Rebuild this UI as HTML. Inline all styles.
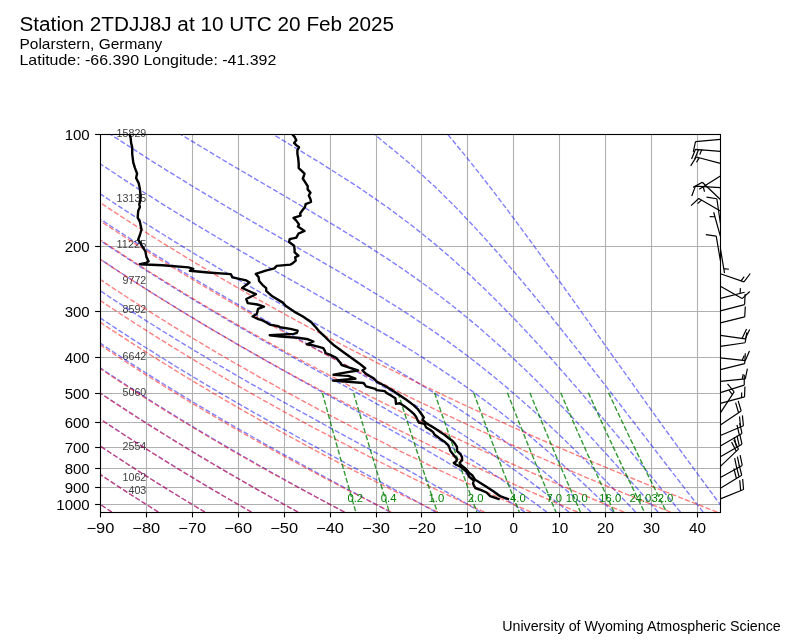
<!DOCTYPE html><html><head><meta charset="utf-8"><style>html,body{margin:0;padding:0;background:#fff;width:800px;height:640px;overflow:hidden}svg{display:block;will-change:transform}text{font-family:"Liberation Sans",sans-serif}</style></head><body>
<svg width="800" height="640" viewBox="0 0 800 640">
<defs><clipPath id="ax"><rect x="100.00" y="134.20" width="620.00" height="377.87"/></clipPath></defs>
<text x="19.5" y="31.3" font-size="19.4" textLength="374.5" lengthAdjust="spacingAndGlyphs">Station 2TDJJ8J at 10 UTC 20 Feb 2025</text>
<text x="19.5" y="49.2" font-size="14.6" textLength="142.8" lengthAdjust="spacingAndGlyphs">Polarstern, Germany</text>
<text x="19.5" y="65.1" font-size="14.6" textLength="256.8" lengthAdjust="spacingAndGlyphs">Latitude: -66.390 Longitude: -41.392</text>
<text x="502.2" y="631.4" font-size="13.9" textLength="278.5" lengthAdjust="spacingAndGlyphs">University of Wyoming Atmospheric Science</text>
<g stroke="#b0b0b0" stroke-width="1.11">
<line x1="146.5" y1="134.20" x2="146.5" y2="512.07"/>
<line x1="192.5" y1="134.20" x2="192.5" y2="512.07"/>
<line x1="238.5" y1="134.20" x2="238.5" y2="512.07"/>
<line x1="284.5" y1="134.20" x2="284.5" y2="512.07"/>
<line x1="330.5" y1="134.20" x2="330.5" y2="512.07"/>
<line x1="376.5" y1="134.20" x2="376.5" y2="512.07"/>
<line x1="421.5" y1="134.20" x2="421.5" y2="512.07"/>
<line x1="467.5" y1="134.20" x2="467.5" y2="512.07"/>
<line x1="513.5" y1="134.20" x2="513.5" y2="512.07"/>
<line x1="559.5" y1="134.20" x2="559.5" y2="512.07"/>
<line x1="605.5" y1="134.20" x2="605.5" y2="512.07"/>
<line x1="651.5" y1="134.20" x2="651.5" y2="512.07"/>
<line x1="697.5" y1="134.20" x2="697.5" y2="512.07"/>
<line x1="100.00" y1="134.5" x2="720.00" y2="134.5"/>
<line x1="100.00" y1="246.5" x2="720.00" y2="246.5"/>
<line x1="100.00" y1="311.5" x2="720.00" y2="311.5"/>
<line x1="100.00" y1="357.5" x2="720.00" y2="357.5"/>
<line x1="100.00" y1="393.5" x2="720.00" y2="393.5"/>
<line x1="100.00" y1="422.5" x2="720.00" y2="422.5"/>
<line x1="100.00" y1="447.5" x2="720.00" y2="447.5"/>
<line x1="100.00" y1="468.5" x2="720.00" y2="468.5"/>
<line x1="100.00" y1="487.5" x2="720.00" y2="487.5"/>
<line x1="100.00" y1="504.5" x2="720.00" y2="504.5"/>
</g>
<g font-size="11" fill="#404040" text-anchor="end">
<text x="146.3" y="136.9" textLength="29.75" lengthAdjust="spacingAndGlyphs">15829</text>
<text x="146.3" y="202.1" textLength="29.75" lengthAdjust="spacingAndGlyphs">13135</text>
<text x="146.3" y="248.3" textLength="29.75" lengthAdjust="spacingAndGlyphs">11225</text>
<text x="146.3" y="284.1" textLength="23.80" lengthAdjust="spacingAndGlyphs">9772</text>
<text x="146.3" y="313.4" textLength="23.80" lengthAdjust="spacingAndGlyphs">8592</text>
<text x="146.3" y="359.7" textLength="23.80" lengthAdjust="spacingAndGlyphs">6642</text>
<text x="146.3" y="395.5" textLength="23.80" lengthAdjust="spacingAndGlyphs">5060</text>
<text x="146.3" y="449.6" textLength="23.80" lengthAdjust="spacingAndGlyphs">2554</text>
<text x="146.3" y="480.8" textLength="23.80" lengthAdjust="spacingAndGlyphs">1062</text>
<text x="146.3" y="494.4" textLength="17.85" lengthAdjust="spacingAndGlyphs">403</text>
</g>
<g clip-path="url(#ax)" fill="none" stroke-width="1.39">
<g stroke="#0000ff" stroke-opacity="0.5" stroke-dasharray="5.14 2.22">
<path d="M111.81,512.07 L107.28,509.07 L102.69,506.02 L98.03,502.91 L93.31,499.74 L88.53,496.50 L83.67,493.20 L78.74,489.82 L73.73,486.38 L68.65,482.86 L63.48,479.26 L58.24,475.58 L52.90,471.81 L47.47,467.96 L41.95,464.00 L36.33,459.95 L30.60,455.79 L24.77,451.53 L18.82,447.14 L12.76,442.63 L6.57,438.00 L0.25,433.22 L-6.21,428.30 L-12.81,423.23 L-19.57,417.98 L-26.49,412.56 L-33.58,406.96 L-40.85,401.15 L-48.32,395.12 L-55.99,388.85 L-63.89,382.33 L-72.02,375.54 L-80.40,368.45 L-89.06,361.03 L-98.02,353.24 L-107.30,345.07 L-116.94,336.45 L-126.96,327.35 L-137.41,317.70 L-148.33,307.43 L-159.77,296.47 L-171.82,284.69 L-184.53,271.99 L-198.01,258.20 L-212.39,243.11 L-227.82,226.46 L-244.50,207.87 L-262.71,186.86 L-282.84,162.68 L-305.47,134.20"/>
<path d="M158.37,512.07 L153.60,509.07 L148.76,506.02 L143.85,502.91 L138.87,499.74 L133.83,496.50 L128.70,493.20 L123.51,489.82 L118.23,486.38 L112.87,482.86 L107.42,479.26 L101.89,475.58 L96.26,471.81 L90.53,467.96 L84.71,464.00 L78.78,459.95 L72.74,455.79 L66.59,451.53 L60.32,447.14 L53.92,442.63 L47.40,438.00 L40.73,433.22 L33.92,428.30 L26.96,423.23 L19.83,417.98 L12.53,412.56 L5.06,406.96 L-2.61,401.15 L-10.49,395.12 L-18.58,388.85 L-26.90,382.33 L-35.48,375.54 L-44.32,368.45 L-53.46,361.03 L-62.90,353.24 L-72.69,345.07 L-82.85,336.45 L-93.42,327.35 L-104.44,317.70 L-115.96,307.43 L-128.03,296.47 L-140.73,284.69 L-154.13,271.99 L-168.35,258.20 L-183.52,243.11 L-199.78,226.46 L-217.38,207.87 L-236.59,186.86 L-257.82,162.68 L-281.68,134.20"/>
<path d="M204.94,512.07 L199.92,509.07 L194.83,506.02 L189.67,502.91 L184.44,499.74 L179.13,496.50 L173.75,493.20 L168.28,489.82 L162.73,486.38 L157.10,482.86 L151.37,479.26 L145.55,475.58 L139.63,471.81 L133.61,467.96 L127.49,464.00 L121.25,459.95 L114.90,455.79 L108.43,451.53 L101.84,447.14 L95.11,442.63 L88.24,438.00 L81.23,433.22 L74.07,428.30 L66.74,423.23 L59.25,417.98 L51.58,412.56 L43.71,406.96 L35.64,401.15 L27.36,395.12 L18.85,388.85 L10.09,382.33 L1.08,375.54 L-8.23,368.45 L-17.83,361.03 L-27.77,353.24 L-38.07,345.07 L-48.75,336.45 L-59.87,327.35 L-71.46,317.70 L-83.57,307.43 L-96.27,296.47 L-109.62,284.69 L-123.73,271.99 L-138.68,258.20 L-154.63,243.11 L-171.74,226.46 L-190.25,207.87 L-210.45,186.86 L-232.78,162.68 L-257.88,134.20"/>
<path d="M251.47,512.07 L246.22,509.07 L240.89,506.02 L235.49,502.91 L230.02,499.74 L224.46,496.50 L218.82,493.20 L213.09,489.82 L207.27,486.38 L201.36,482.86 L195.36,479.26 L189.26,475.58 L183.05,471.81 L176.74,467.96 L170.32,464.00 L163.78,459.95 L157.12,455.79 L150.33,451.53 L143.41,447.14 L136.35,442.63 L129.15,438.00 L121.79,433.22 L114.28,428.30 L106.59,423.23 L98.73,417.98 L90.67,412.56 L82.42,406.96 L73.96,401.15 L65.27,395.12 L56.34,388.85 L47.15,382.33 L37.68,375.54 L27.92,368.45 L17.84,361.03 L7.42,353.24 L-3.39,345.07 L-14.60,336.45 L-26.27,327.35 L-38.43,317.70 L-51.14,307.43 L-64.46,296.47 L-78.48,284.69 L-93.27,271.99 L-108.97,258.20 L-125.70,243.11 L-143.66,226.46 L-163.07,207.87 L-184.27,186.86 L-207.71,162.68 L-234.04,134.20"/>
<path d="M297.94,512.07 L292.48,509.07 L286.95,506.02 L281.33,502.91 L275.62,499.74 L269.83,496.50 L263.95,493.20 L257.98,489.82 L251.91,486.38 L245.74,482.86 L239.47,479.26 L233.10,475.58 L226.61,471.81 L220.02,467.96 L213.30,464.00 L206.46,459.95 L199.49,455.79 L192.39,451.53 L185.15,447.14 L177.77,442.63 L170.23,438.00 L162.53,433.22 L154.66,428.30 L146.61,423.23 L138.38,417.98 L129.95,412.56 L121.31,406.96 L112.45,401.15 L103.35,395.12 L94.00,388.85 L84.37,382.33 L74.46,375.54 L64.24,368.45 L53.69,361.03 L42.77,353.24 L31.45,345.07 L19.71,336.45 L7.49,327.35 L-5.24,317.70 L-18.55,307.43 L-32.51,296.47 L-47.18,284.69 L-62.68,271.99 L-79.11,258.20 L-96.64,243.11 L-115.44,226.46 L-135.77,207.87 L-157.98,186.86 L-182.52,162.68 L-210.10,134.20"/>
<path d="M344.25,512.07 L338.65,509.07 L332.96,506.02 L327.18,502.91 L321.31,499.74 L315.33,496.50 L309.26,493.20 L303.08,489.82 L296.80,486.38 L290.40,482.86 L283.90,479.26 L277.28,475.58 L270.54,471.81 L263.68,467.96 L256.69,464.00 L249.56,459.95 L242.30,455.79 L234.90,451.53 L227.35,447.14 L219.64,442.63 L211.78,438.00 L203.74,433.22 L195.52,428.30 L187.12,423.23 L178.51,417.98 L169.70,412.56 L160.67,406.96 L151.41,401.15 L141.90,395.12 L132.12,388.85 L122.06,382.33 L111.70,375.54 L101.01,368.45 L89.97,361.03 L78.56,353.24 L66.73,345.07 L54.45,336.45 L41.68,327.35 L28.36,317.70 L14.44,307.43 L-0.15,296.47 L-15.50,284.69 L-31.70,271.99 L-48.89,258.20 L-67.21,243.11 L-86.87,226.46 L-108.13,207.87 L-131.35,186.86 L-157.01,162.68 L-185.85,134.20"/>
<path d="M390.23,512.07 L384.63,509.07 L378.91,506.02 L373.09,502.91 L367.15,499.74 L361.10,496.50 L354.93,493.20 L348.64,489.82 L342.23,486.38 L335.69,482.86 L329.02,479.26 L322.22,475.58 L315.29,471.81 L308.22,467.96 L301.00,464.00 L293.64,459.95 L286.12,455.79 L278.45,451.53 L270.62,447.14 L262.61,442.63 L254.43,438.00 L246.07,433.22 L237.51,428.30 L228.76,423.23 L219.79,417.98 L210.61,412.56 L201.18,406.96 L191.52,401.15 L181.59,395.12 L171.38,388.85 L160.87,382.33 L150.05,375.54 L138.89,368.45 L127.36,361.03 L115.43,353.24 L103.07,345.07 L90.24,336.45 L76.89,327.35 L62.98,317.70 L48.43,307.43 L33.18,296.47 L17.15,284.69 L0.21,271.99 L-17.74,258.20 L-36.89,243.11 L-57.44,226.46 L-79.66,207.87 L-103.92,186.86 L-130.73,162.68 L-160.87,134.20"/>
<path d="M435.69,512.07 L430.28,509.07 L424.75,506.02 L419.08,502.91 L413.28,499.74 L407.34,496.50 L401.26,493.20 L395.04,489.82 L388.67,486.38 L382.15,482.86 L375.48,479.26 L368.65,475.58 L361.66,471.81 L354.51,467.96 L347.18,464.00 L339.69,459.95 L332.01,455.79 L324.16,451.53 L316.12,447.14 L307.88,442.63 L299.45,438.00 L290.81,433.22 L281.95,428.30 L272.88,423.23 L263.57,417.98 L254.02,412.56 L244.22,406.96 L234.15,401.15 L223.80,395.12 L213.15,388.85 L202.19,382.33 L190.88,375.54 L179.22,368.45 L167.17,361.03 L154.70,353.24 L141.78,345.07 L128.37,336.45 L114.41,327.35 L99.86,317.70 L84.65,307.43 L68.71,296.47 L51.93,284.69 L34.22,271.99 L15.44,258.20 L-4.59,243.11 L-26.08,226.46 L-49.31,207.87 L-74.68,186.86 L-102.73,162.68 L-134.25,134.20"/>
<path d="M480.50,512.07 L475.53,509.07 L470.43,506.02 L465.18,502.91 L459.79,499.74 L454.24,496.50 L448.54,493.20 L442.67,489.82 L436.63,486.38 L430.42,482.86 L424.03,479.26 L417.45,475.58 L410.68,471.81 L403.71,467.96 L396.54,464.00 L389.16,459.95 L381.56,455.79 L373.74,451.53 L365.70,447.14 L357.42,442.63 L348.89,438.00 L340.13,433.22 L331.10,428.30 L321.82,423.23 L312.26,417.98 L302.42,412.56 L292.30,406.96 L281.87,401.15 L271.12,395.12 L260.04,388.85 L248.61,382.33 L236.82,375.54 L224.63,368.45 L212.03,361.03 L198.97,353.24 L185.44,345.07 L171.37,336.45 L156.74,327.35 L141.48,317.70 L125.52,307.43 L108.79,296.47 L91.19,284.69 L72.60,271.99 L52.89,258.20 L31.87,243.11 L9.32,226.46 L-15.07,207.87 L-41.69,186.86 L-71.13,162.68 L-104.21,134.20"/>
<path d="M524.79,512.07 L520.45,509.07 L515.98,506.02 L511.38,502.91 L506.64,499.74 L501.76,496.50 L496.73,493.20 L491.53,489.82 L486.17,486.38 L480.63,482.86 L474.91,479.26 L468.99,475.58 L462.86,471.81 L456.52,467.96 L449.95,464.00 L443.14,459.95 L436.09,455.79 L428.77,451.53 L421.18,447.14 L413.31,442.63 L405.15,438.00 L396.67,433.22 L387.88,428.30 L378.76,423.23 L369.29,417.98 L359.48,412.56 L349.29,406.96 L338.73,401.15 L327.78,395.12 L316.42,388.85 L304.64,382.33 L292.42,375.54 L279.74,368.45 L266.59,361.03 L252.92,353.24 L238.71,345.07 L223.92,336.45 L208.50,327.35 L192.40,317.70 L175.55,307.43 L157.88,296.47 L139.27,284.69 L119.62,271.99 L98.78,258.20 L76.55,243.11 L52.69,226.46 L26.90,207.87 L-1.27,186.86 L-32.41,162.68 L-67.40,134.20"/>
<path d="M546.85,512.07 L542.85,509.07 L538.73,506.02 L534.50,502.91 L530.14,499.74 L525.65,496.50 L521.02,493.20 L516.25,489.82 L511.31,486.38 L506.22,482.86 L500.95,479.26 L495.49,475.58 L489.84,471.81 L483.98,467.96 L477.90,464.00 L471.59,459.95 L465.02,455.79 L458.20,451.53 L451.10,447.14 L443.71,442.63 L436.01,438.00 L427.97,433.22 L419.60,428.30 L410.86,423.23 L401.75,417.98 L392.23,412.56 L382.30,406.96 L371.94,401.15 L361.13,395.12 L349.85,388.85 L338.08,382.33 L325.81,375.54 L313.02,368.45 L299.68,361.03 L285.76,353.24 L271.25,345.07 L256.10,336.45 L240.27,327.35 L223.71,317.70 L206.35,307.43 L188.12,296.47 L168.92,284.69 L148.62,271.99 L127.08,258.20 L104.11,243.11 L79.45,226.46 L52.79,207.87 L23.67,186.86 L-8.51,162.68 L-44.68,134.20"/>
<path d="M568.92,512.07 L565.25,509.07 L561.49,506.02 L557.62,502.91 L553.64,499.74 L549.55,496.50 L545.33,493.20 L540.98,489.82 L536.50,486.38 L531.87,482.86 L527.09,479.26 L522.14,475.58 L517.01,471.81 L511.70,467.96 L506.19,464.00 L500.46,459.95 L494.51,455.79 L488.31,451.53 L481.85,447.14 L475.11,442.63 L468.07,438.00 L460.71,433.22 L453.00,428.30 L444.92,423.23 L436.45,417.98 L427.56,412.56 L418.22,406.96 L408.40,401.15 L398.07,395.12 L387.21,388.85 L375.79,382.33 L363.78,375.54 L351.15,368.45 L337.88,361.03 L323.93,353.24 L309.27,345.07 L293.88,336.45 L277.72,327.35 L260.73,317.70 L242.86,307.43 L224.03,296.47 L204.16,284.69 L183.13,271.99 L160.79,258.20 L136.94,243.11 L111.34,226.46 L83.64,207.87 L53.40,186.86 L19.96,162.68 L-17.61,134.20"/>
<path d="M591.04,512.07 L587.69,509.07 L584.25,506.02 L580.73,502.91 L577.11,499.74 L573.39,496.50 L569.57,493.20 L565.63,489.82 L561.58,486.38 L557.41,482.86 L553.10,479.26 L548.65,475.58 L544.05,471.81 L539.29,467.96 L534.37,464.00 L529.25,459.95 L523.94,455.79 L518.42,451.53 L512.67,447.14 L506.68,442.63 L500.42,438.00 L493.87,433.22 L487.01,428.30 L479.81,423.23 L472.24,417.98 L464.27,412.56 L455.87,406.96 L446.99,401.15 L437.60,395.12 L427.65,388.85 L417.10,382.33 L405.89,375.54 L393.97,368.45 L381.31,361.03 L367.84,353.24 L353.52,345.07 L338.31,336.45 L322.14,327.35 L304.98,317.70 L286.78,307.43 L267.46,296.47 L246.95,284.69 L225.14,271.99 L201.89,258.20 L177.02,243.11 L150.29,226.46 L121.35,207.87 L89.73,186.86 L54.77,162.68 L15.47,134.20"/>
<path d="M613.25,512.07 L610.18,509.07 L607.04,506.02 L603.82,502.91 L600.52,499.74 L597.14,496.50 L593.67,493.20 L590.11,489.82 L586.45,486.38 L582.68,482.86 L578.81,479.26 L574.82,475.58 L570.70,471.81 L566.45,467.96 L562.06,464.00 L557.52,459.95 L552.82,455.79 L547.94,451.53 L542.88,447.14 L537.61,442.63 L532.12,438.00 L526.39,433.22 L520.41,428.30 L514.15,423.23 L507.57,417.98 L500.66,412.56 L493.38,406.96 L485.68,401.15 L477.54,395.12 L468.89,388.85 L459.68,382.33 L449.86,375.54 L439.34,368.45 L428.06,361.03 L415.92,353.24 L402.84,345.07 L388.73,336.45 L373.48,327.35 L357.00,317.70 L339.20,307.43 L319.98,296.47 L299.26,284.69 L276.94,271.99 L252.90,258.20 L226.98,243.11 L198.97,226.46 L168.55,207.87 L135.24,186.86 L98.38,162.68 L56.95,134.20"/>
<path d="M635.57,512.07 L632.74,509.07 L629.85,506.02 L626.90,502.91 L623.87,499.74 L620.78,496.50 L617.62,493.20 L614.37,489.82 L611.05,486.38 L607.63,482.86 L604.13,479.26 L600.53,475.58 L596.82,471.81 L593.01,467.96 L589.08,464.00 L585.03,459.95 L580.84,455.79 L576.52,451.53 L572.04,447.14 L567.40,442.63 L562.59,438.00 L557.59,433.22 L552.38,428.30 L546.95,423.23 L541.28,417.98 L535.34,412.56 L529.11,406.96 L522.56,401.15 L515.65,395.12 L508.35,388.85 L500.60,382.33 L492.35,375.54 L483.54,368.45 L474.09,361.03 L463.92,353.24 L452.91,345.07 L440.95,336.45 L427.88,327.35 L413.55,317.70 L397.76,307.43 L380.30,296.47 L360.97,284.69 L339.53,271.99 L315.80,258.20 L289.57,243.11 L260.65,226.46 L228.78,207.87 L193.56,186.86 L154.38,162.68 L110.23,134.20"/>
<path d="M657.99,512.07 L655.37,509.07 L652.69,506.02 L649.95,502.91 L647.16,499.74 L644.31,496.50 L641.39,493.20 L638.41,489.82 L635.36,486.38 L632.23,482.86 L629.03,479.26 L625.74,475.58 L622.37,471.81 L618.91,467.96 L615.36,464.00 L611.70,459.95 L607.93,455.79 L604.05,451.53 L600.05,447.14 L595.91,442.63 L591.64,438.00 L587.21,433.22 L582.62,428.30 L577.86,423.23 L572.91,417.98 L567.75,412.56 L562.36,406.96 L556.73,401.15 L550.83,395.12 L544.63,388.85 L538.10,382.33 L531.19,375.54 L523.87,368.45 L516.08,361.03 L507.75,353.24 L498.81,345.07 L489.15,336.45 L478.67,327.35 L467.20,317.70 L454.57,307.43 L440.53,296.47 L424.80,284.69 L406.99,271.99 L386.64,258.20 L363.23,243.11 L336.16,226.46 L304.88,207.87 L268.88,186.86 L227.63,162.68 L180.34,134.20"/>
<path d="M680.52,512.07 L678.06,509.07 L675.55,506.02 L672.99,502.91 L670.38,499.74 L667.72,496.50 L665.00,493.20 L662.23,489.82 L659.39,486.38 L656.50,482.86 L653.53,479.26 L650.50,475.58 L647.39,471.81 L644.20,467.96 L640.93,464.00 L637.58,459.95 L634.14,455.79 L630.60,451.53 L626.95,447.14 L623.20,442.63 L619.33,438.00 L615.34,433.22 L611.22,428.30 L606.95,423.23 L602.53,417.98 L597.95,412.56 L593.19,406.96 L588.23,401.15 L583.06,395.12 L577.66,388.85 L572.01,382.33 L566.08,375.54 L559.83,368.45 L553.24,361.03 L546.26,353.24 L538.83,345.07 L530.90,336.45 L522.39,327.35 L513.21,317.70 L503.22,307.43 L492.29,296.47 L480.20,284.69 L466.68,271.99 L451.37,258.20 L433.74,243.11 L413.05,226.46 L388.25,207.87 L357.85,186.86 L320.00,162.68 L272.77,134.20"/>
<path d="M703.14,512.07 L700.81,509.07 L698.43,506.02 L696.01,502.91 L693.55,499.74 L691.04,496.50 L688.47,493.20 L685.86,489.82 L683.19,486.38 L680.47,482.86 L677.68,479.26 L674.84,475.58 L671.93,471.81 L668.95,467.96 L665.90,464.00 L662.78,459.95 L659.57,455.79 L656.28,451.53 L652.91,447.14 L649.44,442.63 L645.87,438.00 L642.19,433.22 L638.40,428.30 L634.49,423.23 L630.45,417.98 L626.28,412.56 L621.95,406.96 L617.47,401.15 L612.81,395.12 L607.96,388.85 L602.91,382.33 L597.64,375.54 L592.11,368.45 L586.32,361.03 L580.22,353.24 L573.79,345.07 L566.97,336.45 L559.73,327.35 L551.99,317.70 L543.69,307.43 L534.72,296.47 L524.97,284.69 L514.28,271.99 L502.43,258.20 L489.13,243.11 L473.96,226.46 L456.30,207.87 L435.14,186.86 L408.82,162.68 L374.31,134.20"/>
<path d="M725.84,512.07 L723.61,509.07 L721.34,506.02 L719.02,502.91 L716.66,499.74 L714.26,496.50 L711.82,493.20 L709.32,489.82 L706.78,486.38 L704.19,482.86 L701.54,479.26 L698.83,475.58 L696.07,471.81 L693.24,467.96 L690.35,464.00 L687.39,459.95 L684.36,455.79 L681.26,451.53 L678.07,447.14 L674.80,442.63 L671.45,438.00 L667.99,433.22 L664.44,428.30 L660.78,423.23 L657.01,417.98 L653.12,412.56 L649.09,406.96 L644.93,401.15 L640.62,395.12 L636.14,388.85 L631.49,382.33 L626.65,375.54 L621.60,368.45 L616.32,361.03 L610.79,353.24 L604.98,345.07 L598.86,336.45 L592.39,327.35 L585.53,317.70 L578.22,307.43 L570.40,296.47 L561.98,284.69 L552.86,271.99 L542.91,258.20 L531.94,243.11 L519.71,226.46 L505.87,207.87 L489.90,186.86 L470.97,162.68 L447.64,134.20"/>
</g><g stroke="#ff0000" stroke-opacity="0.5" stroke-dasharray="5.14 2.22">
<path d="M111.81,512.07 L107.28,509.07 L102.69,506.02 L98.03,502.91 L93.31,499.74 L88.53,496.50 L83.67,493.20 L78.74,489.82 L73.73,486.38 L68.65,482.86 L63.48,479.26 L58.24,475.58 L52.90,471.81 L47.47,467.96 L41.95,464.00 L36.33,459.95 L30.60,455.79 L24.77,451.53 L18.82,447.14 L12.76,442.63 L6.57,438.00 L0.25,433.22 L-6.21,428.30 L-12.82,423.23 L-19.57,417.98 L-26.49,412.56 L-33.58,406.96 L-40.85,401.15 L-48.32,395.12 L-55.99,388.85 L-63.89,382.33 L-72.02,375.54 L-80.40,368.45 L-89.06,361.03 L-98.02,353.24 L-107.30,345.07 L-116.94,336.45 L-126.96,327.35 L-137.41,317.70 L-148.33,307.43 L-159.78,296.47 L-171.82,284.69 L-184.53,271.99 L-198.01,258.20 L-212.39,243.11 L-227.82,226.46 L-244.50,207.87 L-262.71,186.86 L-282.84,162.68 L-305.47,134.20"/>
<path d="M158.38,512.07 L153.60,509.07 L148.76,506.02 L143.85,502.91 L138.87,499.74 L133.82,496.50 L128.70,493.20 L123.50,489.82 L118.22,486.38 L112.86,482.86 L107.42,479.26 L101.88,475.58 L96.25,471.81 L90.53,467.96 L84.71,464.00 L78.78,459.95 L72.74,455.79 L66.59,451.53 L60.32,447.14 L53.92,442.63 L47.39,438.00 L40.73,433.22 L33.91,428.30 L26.95,423.23 L19.82,417.98 L12.53,412.56 L5.05,406.96 L-2.62,401.15 L-10.49,395.12 L-18.58,388.85 L-26.91,382.33 L-35.48,375.54 L-44.33,368.45 L-53.46,361.03 L-62.91,353.24 L-72.70,345.07 L-82.86,336.45 L-93.43,327.35 L-104.44,317.70 L-115.96,307.43 L-128.03,296.47 L-140.73,284.69 L-154.14,271.99 L-168.36,258.20 L-183.52,243.11 L-199.79,226.46 L-217.38,207.87 L-236.59,186.86 L-257.82,162.68 L-281.68,134.20"/>
<path d="M204.95,512.07 L199.92,509.07 L194.83,506.02 L189.67,502.91 L184.43,499.74 L179.12,496.50 L173.74,493.20 L168.27,489.82 L162.72,486.38 L157.08,482.86 L151.35,479.26 L145.53,475.58 L139.61,471.81 L133.59,467.96 L127.46,464.00 L121.23,459.95 L114.88,455.79 L108.40,451.53 L101.81,447.14 L95.08,442.63 L88.22,438.00 L81.20,433.22 L74.04,428.30 L66.72,423.23 L59.22,417.98 L51.55,412.56 L43.68,406.96 L35.62,401.15 L27.34,395.12 L18.82,388.85 L10.07,382.33 L1.05,375.54 L-8.25,368.45 L-17.86,361.03 L-27.80,353.24 L-38.09,345.07 L-48.78,336.45 L-59.89,327.35 L-71.48,317.70 L-83.59,307.43 L-96.29,296.47 L-109.65,284.69 L-123.75,271.99 L-138.70,258.20 L-154.65,243.11 L-171.76,226.46 L-190.27,207.87 L-210.47,186.86 L-232.80,162.68 L-257.90,134.20"/>
<path d="M251.52,512.07 L246.25,509.07 L240.90,506.02 L235.49,502.91 L230.00,499.74 L224.42,496.50 L218.77,493.20 L213.03,489.82 L207.21,486.38 L201.29,482.86 L195.28,479.26 L189.17,475.58 L182.96,471.81 L176.64,467.96 L170.22,464.00 L163.68,459.95 L157.01,455.79 L150.22,451.53 L143.30,447.14 L136.24,442.63 L129.04,438.00 L121.68,433.22 L114.17,428.30 L106.48,423.23 L98.62,417.98 L90.57,412.56 L82.32,406.96 L73.85,401.15 L65.16,395.12 L56.23,388.85 L47.05,382.33 L37.58,375.54 L27.82,368.45 L17.74,361.03 L7.32,353.24 L-3.48,345.07 L-14.70,336.45 L-26.36,327.35 L-38.52,317.70 L-51.23,307.43 L-64.55,296.47 L-78.56,284.69 L-93.36,271.99 L-109.05,258.20 L-125.78,243.11 L-143.73,226.46 L-163.15,207.87 L-184.35,186.86 L-207.78,162.68 L-234.11,134.20"/>
<path d="M298.09,512.07 L292.57,509.07 L286.98,506.02 L281.31,502.91 L275.56,499.74 L269.72,496.50 L263.80,493.20 L257.80,489.82 L251.70,486.38 L245.51,482.86 L239.21,479.26 L232.82,475.58 L226.32,471.81 L219.70,467.96 L212.97,464.00 L206.12,459.95 L199.15,455.79 L192.04,451.53 L184.80,447.14 L177.41,442.63 L169.86,438.00 L162.16,433.22 L154.29,428.30 L146.25,423.23 L138.02,417.98 L129.59,412.56 L120.95,406.96 L112.09,401.15 L102.99,395.12 L93.64,388.85 L84.02,382.33 L74.12,375.54 L63.90,368.45 L53.35,361.03 L42.43,353.24 L31.12,345.07 L19.39,336.45 L7.18,327.35 L-5.55,317.70 L-18.86,307.43 L-32.81,296.47 L-47.48,284.69 L-62.97,271.99 L-79.40,258.20 L-96.91,243.11 L-115.71,226.46 L-136.03,207.87 L-158.22,186.86 L-182.75,162.68 L-210.32,134.20"/>
<path d="M344.66,512.07 L338.89,509.07 L333.05,506.02 L327.12,502.91 L321.12,499.74 L315.02,496.50 L308.84,493.20 L302.56,489.82 L296.19,486.38 L289.72,482.86 L283.14,479.26 L276.46,475.58 L269.67,471.81 L262.76,467.96 L255.73,464.00 L248.57,459.95 L241.29,455.79 L233.86,451.53 L226.29,447.14 L218.57,442.63 L210.69,438.00 L202.64,433.22 L194.42,428.30 L186.02,423.23 L177.41,417.98 L168.61,412.56 L159.58,406.96 L150.32,401.15 L140.82,395.12 L131.05,388.85 L121.00,382.33 L110.65,375.54 L99.98,368.45 L88.95,361.03 L77.55,353.24 L65.73,345.07 L53.47,336.45 L40.71,327.35 L27.41,317.70 L13.51,307.43 L-1.06,296.47 L-16.39,284.69 L-32.58,271.99 L-49.74,258.20 L-68.04,243.11 L-87.68,226.46 L-108.92,207.87 L-132.10,186.86 L-157.73,162.68 L-186.53,134.20"/>
<path d="M391.23,512.07 L385.22,509.07 L379.12,506.02 L372.94,502.91 L366.68,499.74 L360.32,496.50 L353.87,493.20 L347.33,489.82 L340.68,486.38 L333.93,482.86 L327.08,479.26 L320.11,475.58 L313.02,471.81 L305.82,467.96 L298.49,464.00 L291.02,459.95 L283.42,455.79 L275.68,451.53 L267.78,447.14 L259.73,442.63 L251.51,438.00 L243.12,433.22 L234.55,428.30 L225.78,423.23 L216.81,417.98 L207.63,412.56 L198.21,406.96 L188.56,401.15 L178.65,395.12 L168.46,388.85 L157.98,382.33 L147.18,375.54 L136.05,368.45 L124.55,361.03 L112.66,353.24 L100.34,345.07 L87.55,336.45 L74.24,327.35 L60.37,317.70 L45.88,307.43 L30.68,296.47 L14.69,284.69 L-2.19,271.99 L-20.09,258.20 L-39.17,243.11 L-59.65,226.46 L-81.80,207.87 L-105.98,186.86 L-132.71,162.68 L-162.75,134.20"/>
<path d="M437.80,512.07 L431.54,509.07 L425.20,506.02 L418.76,502.91 L412.24,499.74 L405.62,496.50 L398.91,493.20 L392.09,489.82 L385.17,486.38 L378.15,482.86 L371.01,479.26 L363.75,475.58 L356.38,471.81 L348.88,467.96 L341.24,464.00 L333.47,459.95 L325.56,455.79 L317.50,451.53 L309.28,447.14 L300.89,442.63 L292.34,438.00 L283.60,433.22 L274.67,428.30 L265.55,423.23 L256.21,417.98 L246.65,412.56 L236.85,406.96 L226.79,401.15 L216.47,395.12 L205.87,388.85 L194.96,382.33 L183.72,375.54 L172.13,368.45 L160.16,361.03 L147.77,353.24 L134.95,345.07 L121.63,336.45 L107.78,327.35 L93.34,317.70 L78.24,307.43 L62.42,296.47 L45.78,284.69 L28.21,271.99 L9.57,258.20 L-10.30,243.11 L-31.63,226.46 L-54.68,207.87 L-79.86,186.86 L-107.69,162.68 L-138.96,134.20"/>
<path d="M484.37,512.07 L477.86,509.07 L471.27,506.02 L464.58,502.91 L457.80,499.74 L450.92,496.50 L443.94,493.20 L436.86,489.82 L429.67,486.38 L422.36,482.86 L414.94,479.26 L407.40,475.58 L399.73,471.81 L391.93,467.96 L384.00,464.00 L375.92,459.95 L367.70,455.79 L359.31,451.53 L350.77,447.14 L342.06,442.63 L333.16,438.00 L324.08,433.22 L314.80,428.30 L305.31,423.23 L295.61,417.98 L285.67,412.56 L275.48,406.96 L265.03,401.15 L254.30,395.12 L243.28,388.85 L231.93,382.33 L220.25,375.54 L208.20,368.45 L195.76,361.03 L182.89,353.24 L169.55,345.07 L155.71,336.45 L141.31,327.35 L126.30,317.70 L110.61,307.43 L94.16,296.47 L76.86,284.69 L58.60,271.99 L39.22,258.20 L18.57,243.11 L-3.60,226.46 L-27.57,207.87 L-53.74,186.86 L-82.66,162.68 L-115.17,134.20"/>
<path d="M530.94,512.07 L524.19,509.07 L517.34,506.02 L510.40,502.91 L503.36,499.74 L496.22,496.50 L488.98,493.20 L481.62,489.82 L474.16,486.38 L466.58,482.86 L458.87,479.26 L451.05,475.58 L443.09,471.81 L434.99,467.96 L426.76,464.00 L418.37,459.95 L409.83,455.79 L401.13,451.53 L392.26,447.14 L383.22,442.63 L373.99,438.00 L364.56,433.22 L354.93,428.30 L345.08,423.23 L335.00,417.98 L324.68,412.56 L314.11,406.96 L303.26,401.15 L292.13,395.12 L280.69,388.85 L268.91,382.33 L256.79,375.54 L244.28,368.45 L231.36,361.03 L218.00,353.24 L204.16,345.07 L189.79,336.45 L174.85,327.35 L159.26,317.70 L142.98,307.43 L125.90,296.47 L107.95,284.69 L88.99,271.99 L68.88,258.20 L47.44,243.11 L24.43,226.46 L-0.45,207.87 L-27.61,186.86 L-57.64,162.68 L-91.39,134.20"/>
<path d="M577.51,512.07 L570.51,509.07 L563.41,506.02 L556.22,502.91 L548.92,499.74 L541.52,496.50 L534.01,493.20 L526.39,489.82 L518.65,486.38 L510.79,482.86 L502.81,479.26 L494.69,475.58 L486.44,471.81 L478.05,467.96 L469.51,464.00 L460.82,459.95 L451.97,455.79 L442.95,451.53 L433.76,447.14 L424.38,442.63 L414.81,438.00 L405.04,433.22 L395.05,428.30 L384.85,423.23 L374.40,417.98 L363.70,412.56 L352.74,406.96 L341.50,401.15 L329.96,395.12 L318.09,388.85 L305.89,382.33 L293.32,375.54 L280.35,368.45 L266.97,361.03 L253.12,353.24 L238.77,345.07 L223.87,336.45 L208.38,327.35 L192.23,317.70 L175.34,307.43 L157.65,296.47 L139.03,284.69 L119.38,271.99 L98.53,258.20 L76.30,243.11 L52.46,226.46 L26.67,207.87 L-1.49,186.86 L-32.62,162.68 L-67.60,134.20"/>
<path d="M624.08,512.07 L616.83,509.07 L609.49,506.02 L602.04,502.91 L594.48,499.74 L586.82,496.50 L579.04,493.20 L571.15,489.82 L563.14,486.38 L555.00,482.86 L546.74,479.26 L538.34,475.58 L529.80,471.81 L521.11,467.96 L512.27,464.00 L503.27,459.95 L494.11,455.79 L484.77,451.53 L475.25,447.14 L465.54,442.63 L455.64,438.00 L445.52,433.22 L435.18,428.30 L424.61,423.23 L413.80,417.98 L402.72,412.56 L391.38,406.96 L379.73,401.15 L367.78,395.12 L355.50,388.85 L342.87,382.33 L329.85,375.54 L316.43,368.45 L302.57,361.03 L288.23,353.24 L273.37,345.07 L257.95,336.45 L241.91,327.35 L225.19,317.70 L207.71,307.43 L189.39,296.47 L170.12,284.69 L149.77,271.99 L128.19,258.20 L105.17,243.11 L80.48,226.46 L53.78,207.87 L24.63,186.86 L-7.60,162.68 L-43.81,134.20"/>
<path d="M670.65,512.07 L663.16,509.07 L655.56,506.02 L647.85,502.91 L640.04,499.74 L632.12,496.50 L624.08,493.20 L615.92,489.82 L607.63,486.38 L599.22,482.86 L590.67,479.26 L581.98,475.58 L573.15,471.81 L564.17,467.96 L555.02,464.00 L545.72,459.95 L536.24,455.79 L526.59,451.53 L516.74,447.14 L506.71,442.63 L496.46,438.00 L486.00,433.22 L475.31,428.30 L464.38,423.23 L453.19,417.98 L441.74,412.56 L430.01,406.96 L417.97,401.15 L405.61,395.12 L392.91,388.85 L379.85,382.33 L366.39,375.54 L352.51,368.45 L338.17,361.03 L323.34,353.24 L307.98,345.07 L292.03,336.45 L275.45,327.35 L258.15,317.70 L240.08,307.43 L221.13,296.47 L201.20,284.69 L180.16,271.99 L157.84,258.20 L134.04,243.11 L108.51,226.46 L80.90,207.87 L50.75,186.86 L17.43,162.68 L-20.02,134.20"/>
<path d="M717.23,512.07 L709.48,509.07 L701.63,506.02 L693.67,502.91 L685.60,499.74 L677.42,496.50 L669.11,493.20 L660.68,489.82 L652.12,486.38 L643.43,482.86 L634.60,479.26 L625.63,475.58 L616.50,471.81 L607.22,467.96 L597.78,464.00 L588.17,459.95 L578.38,455.79 L568.41,451.53 L558.24,447.14 L547.87,442.63 L537.28,438.00 L526.48,433.22 L515.43,428.30 L504.14,423.23 L492.59,417.98 L480.76,412.56 L468.64,406.96 L456.21,401.15 L443.44,395.12 L430.32,388.85 L416.82,382.33 L402.92,375.54 L388.58,368.45 L373.77,361.03 L358.46,353.24 L342.59,345.07 L326.12,336.45 L308.98,327.35 L291.12,317.70 L272.45,307.43 L252.87,296.47 L232.29,284.69 L210.55,271.99 L187.49,258.20 L162.91,243.11 L136.54,226.46 L108.01,207.87 L76.87,186.86 L42.45,162.68 L3.76,134.20"/>
</g><g stroke="#008000" stroke-opacity="0.8" stroke-dasharray="5.14 2.22">
<path d="M322.39,392.84 L323.36,396.40 L324.31,399.89 L325.24,403.31 L326.15,406.66 L327.04,409.93 L327.92,413.14 L328.79,416.29 L329.63,419.38 L330.47,422.41 L331.29,425.38 L332.10,428.30 L332.89,431.17 L333.67,433.99 L334.44,436.75 L335.20,439.48 L335.94,442.15 L336.68,444.79 L337.40,447.38 L338.11,449.92 L338.82,452.43 L339.51,454.90 L340.19,457.34 L340.87,459.73 L341.53,462.10 L342.19,464.42 L342.84,466.72 L343.48,468.98 L344.11,471.21 L344.74,473.41 L345.35,475.58 L345.96,477.72 L346.57,479.84 L347.16,481.92 L347.75,483.98 L348.33,486.01 L348.91,488.02 L349.47,490.00 L350.04,491.96 L350.59,493.90 L351.14,495.81 L351.69,497.70 L352.22,499.57 L352.76,501.41 L353.29,503.24 L353.81,505.04 L354.32,506.83 L354.84,508.59 L355.34,510.34 L355.84,512.07"/>
<path d="M353.56,392.84 L354.59,396.40 L355.60,399.89 L356.60,403.31 L357.57,406.66 L358.53,409.93 L359.47,413.14 L360.39,416.29 L361.30,419.38 L362.19,422.41 L363.07,425.38 L363.93,428.30 L364.78,431.17 L365.61,433.99 L366.43,436.75 L367.24,439.48 L368.04,442.15 L368.83,444.79 L369.60,447.38 L370.36,449.92 L371.11,452.43 L371.86,454.90 L372.59,457.34 L373.31,459.73 L374.02,462.10 L374.73,464.42 L375.42,466.72 L376.10,468.98 L376.78,471.21 L377.45,473.41 L378.11,475.58 L378.76,477.72 L379.41,479.84 L380.04,481.92 L380.67,483.98 L381.29,486.01 L381.91,488.02 L382.52,490.00 L383.12,491.96 L383.72,493.90 L384.30,495.81 L384.89,497.70 L385.46,499.57 L386.03,501.41 L386.60,503.24 L387.16,505.04 L387.71,506.83 L388.26,508.59 L388.80,510.34 L389.34,512.07"/>
<path d="M398.09,392.84 L399.22,396.40 L400.33,399.89 L401.42,403.31 L402.49,406.66 L403.54,409.93 L404.57,413.14 L405.58,416.29 L406.57,419.38 L407.55,422.41 L408.51,425.38 L409.46,428.30 L410.39,431.17 L411.30,433.99 L412.20,436.75 L413.09,439.48 L413.96,442.15 L414.83,444.79 L415.67,447.38 L416.51,449.92 L417.34,452.43 L418.15,454.90 L418.95,457.34 L419.74,459.73 L420.53,462.10 L421.30,464.42 L422.06,466.72 L422.81,468.98 L423.55,471.21 L424.29,473.41 L425.01,475.58 L425.73,477.72 L426.44,479.84 L427.13,481.92 L427.83,483.98 L428.51,486.01 L429.18,488.02 L429.85,490.00 L430.51,491.96 L431.17,493.90 L431.81,495.81 L432.45,497.70 L433.09,499.57 L433.71,501.41 L434.34,503.24 L434.95,505.04 L435.56,506.83 L436.16,508.59 L436.76,510.34 L437.35,512.07"/>
<path d="M434.58,392.84 L435.80,396.40 L436.99,399.89 L438.16,403.31 L439.31,406.66 L440.43,409.93 L441.54,413.14 L442.63,416.29 L443.70,419.38 L444.75,422.41 L445.78,425.38 L446.79,428.30 L447.79,431.17 L448.78,433.99 L449.75,436.75 L450.70,439.48 L451.64,442.15 L452.57,444.79 L453.48,447.38 L454.38,449.92 L455.27,452.43 L456.14,454.90 L457.01,457.34 L457.86,459.73 L458.70,462.10 L459.53,464.42 L460.35,466.72 L461.16,468.98 L461.96,471.21 L462.75,473.41 L463.53,475.58 L464.30,477.72 L465.06,479.84 L465.81,481.92 L466.55,483.98 L467.29,486.01 L468.02,488.02 L468.74,490.00 L469.45,491.96 L470.15,493.90 L470.85,495.81 L471.54,497.70 L472.22,499.57 L472.89,501.41 L473.56,503.24 L474.22,505.04 L474.88,506.83 L475.53,508.59 L476.17,510.34 L476.81,512.07"/>
<path d="M473.74,392.84 L475.05,396.40 L476.33,399.89 L477.59,403.31 L478.82,406.66 L480.04,409.93 L481.23,413.14 L482.40,416.29 L483.55,419.38 L484.68,422.41 L485.80,425.38 L486.89,428.30 L487.97,431.17 L489.03,433.99 L490.07,436.75 L491.10,439.48 L492.12,442.15 L493.11,444.79 L494.10,447.38 L495.07,449.92 L496.03,452.43 L496.97,454.90 L497.90,457.34 L498.82,459.73 L499.73,462.10 L500.62,464.42 L501.51,466.72 L502.38,468.98 L503.24,471.21 L504.09,473.41 L504.93,475.58 L505.76,477.72 L506.59,479.84 L507.40,481.92 L508.20,483.98 L509.00,486.01 L509.78,488.02 L510.56,490.00 L511.32,491.96 L512.08,493.90 L512.84,495.81 L513.58,497.70 L514.32,499.57 L515.05,501.41 L515.77,503.24 L516.48,505.04 L517.19,506.83 L517.89,508.59 L518.58,510.34 L519.27,512.07"/>
<path d="M507.43,392.84 L508.82,396.40 L510.19,399.89 L511.52,403.31 L512.84,406.66 L514.13,409.93 L515.40,413.14 L516.64,416.29 L517.87,419.38 L519.07,422.41 L520.26,425.38 L521.42,428.30 L522.57,431.17 L523.70,433.99 L524.81,436.75 L525.90,439.48 L526.98,442.15 L528.05,444.79 L529.09,447.38 L530.13,449.92 L531.15,452.43 L532.15,454.90 L533.14,457.34 L534.12,459.73 L535.09,462.10 L536.04,464.42 L536.98,466.72 L537.91,468.98 L538.83,471.21 L539.74,473.41 L540.63,475.58 L541.52,477.72 L542.40,479.84 L543.26,481.92 L544.12,483.98 L544.96,486.01 L545.80,488.02 L546.63,490.00 L547.45,491.96 L548.26,493.90 L549.06,495.81 L549.85,497.70 L550.63,499.57 L551.41,501.41 L552.18,503.24 L552.94,505.04 L553.70,506.83 L554.44,508.59 L555.18,510.34 L555.91,512.07"/>
<path d="M529.91,392.84 L531.36,396.40 L532.78,399.89 L534.18,403.31 L535.54,406.66 L536.89,409.93 L538.21,413.14 L539.50,416.29 L540.78,419.38 L542.03,422.41 L543.27,425.38 L544.48,428.30 L545.67,431.17 L546.85,433.99 L548.01,436.75 L549.15,439.48 L550.27,442.15 L551.38,444.79 L552.47,447.38 L553.55,449.92 L554.61,452.43 L555.66,454.90 L556.69,457.34 L557.71,459.73 L558.72,462.10 L559.71,464.42 L560.69,466.72 L561.66,468.98 L562.61,471.21 L563.56,473.41 L564.49,475.58 L565.42,477.72 L566.33,479.84 L567.23,481.92 L568.12,483.98 L569.00,486.01 L569.88,488.02 L570.74,490.00 L571.59,491.96 L572.44,493.90 L573.27,495.81 L574.10,497.70 L574.92,499.57 L575.73,501.41 L576.53,503.24 L577.32,505.04 L578.11,506.83 L578.89,508.59 L579.66,510.34 L580.42,512.07"/>
<path d="M560.74,392.84 L562.27,396.40 L563.77,399.89 L565.24,403.31 L566.69,406.66 L568.11,409.93 L569.50,413.14 L570.87,416.29 L572.21,419.38 L573.54,422.41 L574.84,425.38 L576.12,428.30 L577.38,431.17 L578.62,433.99 L579.85,436.75 L581.05,439.48 L582.24,442.15 L583.41,444.79 L584.56,447.38 L585.70,449.92 L586.82,452.43 L587.92,454.90 L589.02,457.34 L590.09,459.73 L591.16,462.10 L592.21,464.42 L593.24,466.72 L594.27,468.98 L595.28,471.21 L596.28,473.41 L597.26,475.58 L598.24,477.72 L599.20,479.84 L600.16,481.92 L601.10,483.98 L602.03,486.01 L602.95,488.02 L603.86,490.00 L604.77,491.96 L605.66,493.90 L606.54,495.81 L607.42,497.70 L608.28,499.57 L609.14,501.41 L609.98,503.24 L610.82,505.04 L611.66,506.83 L612.48,508.59 L613.29,510.34 L614.10,512.07"/>
<path d="M588.41,392.84 L590.01,396.40 L591.59,399.89 L593.13,403.31 L594.64,406.66 L596.13,409.93 L597.59,413.14 L599.02,416.29 L600.44,419.38 L601.82,422.41 L603.19,425.38 L604.53,428.30 L605.86,431.17 L607.16,433.99 L608.44,436.75 L609.70,439.48 L610.95,442.15 L612.17,444.79 L613.38,447.38 L614.58,449.92 L615.75,452.43 L616.91,454.90 L618.06,457.34 L619.19,459.73 L620.30,462.10 L621.41,464.42 L622.49,466.72 L623.57,468.98 L624.63,471.21 L625.68,473.41 L626.71,475.58 L627.74,477.72 L628.75,479.84 L629.75,481.92 L630.74,483.98 L631.72,486.01 L632.68,488.02 L633.64,490.00 L634.59,491.96 L635.53,493.90 L636.45,495.81 L637.37,497.70 L638.28,499.57 L639.18,501.41 L640.07,503.24 L640.95,505.04 L641.82,506.83 L642.69,508.59 L643.54,510.34 L644.39,512.07"/>
<path d="M608.59,392.84 L610.25,396.40 L611.88,399.89 L613.47,403.31 L615.04,406.66 L616.57,409.93 L618.09,413.14 L619.57,416.29 L621.03,419.38 L622.47,422.41 L623.88,425.38 L625.27,428.30 L626.64,431.17 L627.98,433.99 L629.31,436.75 L630.62,439.48 L631.91,442.15 L633.18,444.79 L634.43,447.38 L635.66,449.92 L636.88,452.43 L638.08,454.90 L639.26,457.34 L640.43,459.73 L641.59,462.10 L642.73,464.42 L643.85,466.72 L644.97,468.98 L646.06,471.21 L647.15,473.41 L648.22,475.58 L649.28,477.72 L650.33,479.84 L651.37,481.92 L652.39,483.98 L653.40,486.01 L654.41,488.02 L655.40,490.00 L656.38,491.96 L657.35,493.90 L658.31,495.81 L659.26,497.70 L660.20,499.57 L661.13,501.41 L662.05,503.24 L662.96,505.04 L663.87,506.83 L664.76,508.59 L665.65,510.34 L666.53,512.07"/>
</g></g>
<g fill="none" stroke="#000" stroke-width="2.4" stroke-linejoin="round" stroke-linecap="square" clip-path="url(#ax)">
<path d="M292.4,134.4 L294.6,136.9 L296.3,140.2 L294.1,142.9 L296.3,145.1 L299.0,147.3 L297.4,150.1 L297.4,153.9 L298.2,158.3 L298.7,163.7 L298.7,168.1 L301.7,170.8 L304.5,173.6 L303.9,175.8 L302.8,178.5 L305.6,182.9 L307.7,186.2 L307.7,189.4 L310.5,192.7 L308.8,195.5 L310.5,199.3 L311.0,202.0 L305.6,204.2 L305.0,206.9 L302.8,209.7 L300.1,213.5 L300.6,215.7 L293.5,217.9 L296.3,220.6 L299.0,224.4 L297.9,226.6 L304.5,231.0 L298.4,233.7 L296.3,237.6 L289.7,239.2 L289.1,242.0 L294.1,245.8 L294.6,249.6 L294.6,252.3 L298.4,255.6 L295.2,257.3 L295.7,260.6 L291.9,263.8 L290.3,264.6 L276.6,265.9 L274.4,268.4 L265.7,270.6 L255.8,273.9 L258.6,277.1 L259.1,281.0 L262.4,284.8 L266.2,288.1 L266.2,290.8 L272.3,296.3 L283.2,302.9 L285.9,306.1 L294.1,311.6 L302.9,316.5 L311.6,322.6 L316.2,327.8 L318.9,331.1 L324.2,336.0 L328.6,340.4 L334.0,345.3 L343.9,352.4 L353.7,359.5 L359.2,363.4 L365.2,368.3 L362.5,370.5 L366.0,373.9 L373.5,378.2 L377.2,382.0 L384.8,385.8 L391.0,389.5 L398.5,394.5 L406.0,399.5 L413.5,405.1 L417.5,408.8 L421.2,413.8 L423.8,417.5 L422.5,420.0 L426.2,423.0 L430.0,425.4 L434.7,428.2 L440.2,432.1 L444.5,434.8 L448.8,438.3 L452.7,441.0 L455.0,443.8 L457.0,446.9 L457.0,450.8 L460.5,454.3 L462.0,457.1 L462.1,460.2 L459.8,462.5 L460.6,464.8 L466.2,469.2 L469.2,473.0 L472.2,475.2 L475.2,479.8 L481.2,483.5 L487.2,487.2 L494.0,491.8 L500.0,496.2 L507.9,498.9"/>
<path d="M129.5,134.2 L130.6,137.5 L131.1,142.9 L132.2,147.3 L132.2,153.9 L133.3,162.6 L135.0,168.1 L137.1,173.6 L136.1,178.0 L138.8,183.4 L139.9,188.9 L140.4,194.4 L140.4,200.0 L139.3,204.4 L139.9,207.1 L138.2,210.9 L137.7,217.5 L139.9,221.9 L141.5,229.5 L139.9,235.0 L138.2,239.4 L142.1,246.0 L145.4,251.4 L146.4,256.9 L148.6,261.3 L146.0,263.0 L139.9,264.2 L162.5,265.2 L188.5,267.4 L193.3,268.8 L189.9,270.8 L208.0,272.5 L230.8,274.1 L232.4,277.4 L246.3,280.4 L249.5,282.5 L242.2,288.0 L255.9,294.2 L246.3,299.0 L247.7,303.1 L257.3,304.5 L264.0,306.7 L258.0,308.9 L256.9,313.8 L252.6,316.5 L259.1,319.3 L262.0,320.2 L266.4,322.4 L269.7,324.6 L278.4,326.2 L280.0,327.3 L290.4,328.9 L297.6,330.6 L297.0,332.8 L293.7,333.9 L269.7,335.3 L280.6,336.6 L298.1,337.7 L308.0,339.3 L313.4,341.5 L306.9,344.3 L313.4,345.4 L323.3,348.1 L324.9,350.8 L325.5,353.0 L329.7,354.6 L336.2,357.9 L339.5,361.7 L341.7,365.0 L349.4,367.7 L358.1,370.5 L347.7,372.1 L333.5,374.8 L348.3,375.9 L355.4,378.7 L332.9,380.6 L363.6,383.0 L366.0,386.4 L375.4,388.9 L376.6,390.1 L384.8,391.1 L386.0,392.6 L391.0,395.4 L395.4,398.2 L396.0,403.9 L399.8,403.2 L404.8,406.4 L411.0,411.4 L413.8,413.8 L416.2,416.9 L417.5,420.0 L418.8,422.5 L424.4,423.8 L426.2,427.5 L430.0,429.7 L433.1,432.1 L434.7,434.8 L439.4,438.3 L444.1,441.4 L448.0,444.9 L449.5,447.7 L450.3,450.8 L453.4,454.7 L456.6,458.6 L456.6,461.0 L453.8,462.9 L456.6,464.9 L461.0,467.0 L467.0,472.2 L469.2,476.8 L473.8,480.5 L473.0,483.5 L475.2,488.0 L481.2,490.2 L486.5,492.5 L490.2,496.2 L498.5,498.9"/>
</g>
<g font-size="11.1" fill="#008000" text-anchor="middle">
<text x="355.3" y="502" textLength="15.70" lengthAdjust="spacingAndGlyphs">0.2</text>
<text x="388.6" y="502" textLength="15.70" lengthAdjust="spacingAndGlyphs">0.4</text>
<text x="436.4" y="502" textLength="15.70" lengthAdjust="spacingAndGlyphs">1.0</text>
<text x="475.6" y="502" textLength="15.70" lengthAdjust="spacingAndGlyphs">2.0</text>
<text x="517.9" y="502" textLength="15.70" lengthAdjust="spacingAndGlyphs">4.0</text>
<text x="554.3" y="502" textLength="15.70" lengthAdjust="spacingAndGlyphs">7.0</text>
<text x="576.8" y="502" textLength="22.00" lengthAdjust="spacingAndGlyphs">10.0</text>
<text x="610.2" y="502" textLength="22.00" lengthAdjust="spacingAndGlyphs">16.0</text>
<text x="640.4" y="502" textLength="22.00" lengthAdjust="spacingAndGlyphs">24.0</text>
<text x="662.4" y="502" textLength="22.00" lengthAdjust="spacingAndGlyphs">32.0</text>
</g>
<g fill="none" stroke="#000" stroke-width="1.2">
<path d="M720.40,139.30 L695.50,141.58 M695.50,141.58 L693.30,151.82"/>
<path d="M720.40,151.30 L695.48,149.28 M695.48,149.28 L691.56,158.99 M698.60,149.53 L694.67,159.25 M701.71,149.78 L699.75,154.64"/>
<path d="M720.40,163.40 L696.22,157.04 M696.22,157.04 L690.66,165.91 M699.25,157.83 L696.46,162.27"/>
<path d="M720.40,175.90 L699.23,189.19 M703.20,186.70 L704.53,191.77"/>
<path d="M720.40,187.60 L695.44,186.15 M695.44,186.15 L691.74,195.96"/>
<path d="M720.40,199.50 L702.28,182.27 M702.28,182.27 L693.13,187.36"/>
<path d="M720.40,211.00 L698.74,198.52 M698.74,198.52 L691.04,205.63 M701.44,200.08 L697.60,203.63"/>
<path d="M720.40,223.50 L716.85,198.75 M716.85,198.75 L706.51,197.08"/>
<path d="M720.40,236.30 L713.67,212.22 M714.93,216.74 L709.70,216.58"/>
<path d="M720.40,248.50 L724.51,273.16 M723.74,268.54 L728.93,269.26"/>
<path d="M720.40,260.70 L716.22,236.05 M716.22,236.05 L705.83,234.64"/>
<path d="M720.40,273.70 L744.01,281.92 M744.01,281.92 L750.25,273.51 M741.06,280.89 L744.18,276.69"/>
<path d="M720.40,286.20 L742.11,298.59 M742.11,298.59 L749.78,291.46"/>
<path d="M720.40,298.30 L744.65,292.24 M740.11,293.37 L740.41,288.14"/>
<path d="M720.40,310.80 L744.61,304.55 M744.61,304.55 L745.13,294.08"/>
<path d="M720.40,322.90 L744.68,316.93 M744.68,316.93 L745.32,306.47"/>
<path d="M720.40,335.40 L745.15,338.95 M745.15,338.95 L749.66,329.49 M742.05,338.51 L746.57,329.05"/>
<path d="M720.40,346.30 L745.15,342.75 M745.15,342.75 L746.82,332.41"/>
<path d="M720.40,357.90 L745.24,360.69 M745.24,360.69 L749.47,351.11 M742.14,360.35 L744.25,355.55"/>
<path d="M720.40,369.60 L744.68,363.63 M744.68,363.63 L745.32,353.17"/>
<path d="M720.40,381.30 L745.28,378.83 M745.28,378.83 L747.40,368.57 M742.17,379.14 L743.23,374.01"/>
<path d="M720.40,392.60 L744.25,385.12 M744.25,385.12 L744.24,374.64"/>
<path d="M720.40,403.40 L744.53,396.86 M744.53,396.86 L744.93,386.40 M741.51,397.68 L741.72,392.45"/>
<path d="M720.40,412.80 L734.14,391.91 M734.14,391.91 L727.50,383.81 M732.42,394.53 L729.10,390.47"/>
<path d="M720.40,424.90 L741.17,410.99 M741.17,410.99 L738.20,400.94 M738.57,412.73 L735.60,402.68"/>
<path d="M720.40,435.50 L743.42,425.75 M743.42,425.75 L742.40,415.32 M740.54,426.97 L739.52,416.54"/>
<path d="M720.40,446.00 L742.00,433.42 M742.00,433.42 L739.67,423.20 M739.30,434.99 L736.97,424.78"/>
<path d="M720.40,456.80 L742.00,444.21 M742.00,444.21 L739.66,434.00 M739.30,445.78 L736.96,435.57 M736.60,447.36 L734.26,437.14"/>
<path d="M720.40,466.40 L738.49,449.15 M738.49,449.15 L733.85,439.75 M736.23,451.30 L731.59,441.91"/>
<path d="M720.40,477.60 L742.24,465.43 M742.24,465.43 L740.10,455.18 M739.51,466.95 L737.37,456.70 M736.78,468.48 L734.64,458.22"/>
<path d="M720.40,488.30 L741.73,475.26 M741.73,475.26 L739.18,465.10 M739.06,476.89 L736.51,466.73 M736.40,478.52 L733.85,468.36"/>
<path d="M720.40,498.90 L743.55,489.46 M743.55,489.46 L742.67,479.02 M740.66,490.64 L739.77,480.20"/>
</g>
<rect x="100.5" y="134.5" width="620" height="378.0" fill="none" stroke="#000" stroke-width="1.11"/>
<g stroke="#000" stroke-width="1.11">
<line x1="100.5" y1="512.5" x2="100.5" y2="517.4"/>
<line x1="146.5" y1="512.5" x2="146.5" y2="517.4"/>
<line x1="192.5" y1="512.5" x2="192.5" y2="517.4"/>
<line x1="238.5" y1="512.5" x2="238.5" y2="517.4"/>
<line x1="284.5" y1="512.5" x2="284.5" y2="517.4"/>
<line x1="330.5" y1="512.5" x2="330.5" y2="517.4"/>
<line x1="376.5" y1="512.5" x2="376.5" y2="517.4"/>
<line x1="421.5" y1="512.5" x2="421.5" y2="517.4"/>
<line x1="467.5" y1="512.5" x2="467.5" y2="517.4"/>
<line x1="513.5" y1="512.5" x2="513.5" y2="517.4"/>
<line x1="559.5" y1="512.5" x2="559.5" y2="517.4"/>
<line x1="605.5" y1="512.5" x2="605.5" y2="517.4"/>
<line x1="651.5" y1="512.5" x2="651.5" y2="517.4"/>
<line x1="697.5" y1="512.5" x2="697.5" y2="517.4"/>
<line x1="95.1" y1="134.5" x2="100.5" y2="134.5"/>
<line x1="95.1" y1="246.5" x2="100.5" y2="246.5"/>
<line x1="95.1" y1="311.5" x2="100.5" y2="311.5"/>
<line x1="95.1" y1="357.5" x2="100.5" y2="357.5"/>
<line x1="95.1" y1="393.5" x2="100.5" y2="393.5"/>
<line x1="95.1" y1="422.5" x2="100.5" y2="422.5"/>
<line x1="95.1" y1="447.5" x2="100.5" y2="447.5"/>
<line x1="95.1" y1="468.5" x2="100.5" y2="468.5"/>
<line x1="95.1" y1="487.5" x2="100.5" y2="487.5"/>
<line x1="95.1" y1="504.5" x2="100.5" y2="504.5"/>
</g>
<g font-size="14.2" fill="#000">
<text x="89.7" y="140.1" text-anchor="end" textLength="25.05" lengthAdjust="spacingAndGlyphs">100</text>
<text x="89.7" y="251.5" text-anchor="end" textLength="25.05" lengthAdjust="spacingAndGlyphs">200</text>
<text x="89.7" y="316.6" text-anchor="end" textLength="25.05" lengthAdjust="spacingAndGlyphs">300</text>
<text x="89.7" y="362.9" text-anchor="end" textLength="25.05" lengthAdjust="spacingAndGlyphs">400</text>
<text x="89.7" y="398.7" text-anchor="end" textLength="25.05" lengthAdjust="spacingAndGlyphs">500</text>
<text x="89.7" y="428.0" text-anchor="end" textLength="25.05" lengthAdjust="spacingAndGlyphs">600</text>
<text x="89.7" y="452.8" text-anchor="end" textLength="25.05" lengthAdjust="spacingAndGlyphs">700</text>
<text x="89.7" y="474.3" text-anchor="end" textLength="25.05" lengthAdjust="spacingAndGlyphs">800</text>
<text x="89.7" y="493.2" text-anchor="end" textLength="25.05" lengthAdjust="spacingAndGlyphs">900</text>
<text x="89.7" y="510.1" text-anchor="end" textLength="33.40" lengthAdjust="spacingAndGlyphs">1000</text>
<text x="100.4" y="532.9" text-anchor="middle" textLength="27.90" lengthAdjust="spacingAndGlyphs">−90</text>
<text x="146.3" y="532.9" text-anchor="middle" textLength="27.90" lengthAdjust="spacingAndGlyphs">−80</text>
<text x="192.3" y="532.9" text-anchor="middle" textLength="27.90" lengthAdjust="spacingAndGlyphs">−70</text>
<text x="238.2" y="532.9" text-anchor="middle" textLength="27.90" lengthAdjust="spacingAndGlyphs">−60</text>
<text x="284.1" y="532.9" text-anchor="middle" textLength="27.90" lengthAdjust="spacingAndGlyphs">−50</text>
<text x="330.0" y="532.9" text-anchor="middle" textLength="27.90" lengthAdjust="spacingAndGlyphs">−40</text>
<text x="376.0" y="532.9" text-anchor="middle" textLength="27.90" lengthAdjust="spacingAndGlyphs">−30</text>
<text x="421.9" y="532.9" text-anchor="middle" textLength="27.90" lengthAdjust="spacingAndGlyphs">−20</text>
<text x="467.8" y="532.9" text-anchor="middle" textLength="27.90" lengthAdjust="spacingAndGlyphs">−10</text>
<text x="513.7" y="532.9" text-anchor="middle" textLength="8.50" lengthAdjust="spacingAndGlyphs">0</text>
<text x="559.7" y="532.9" text-anchor="middle" textLength="17.00" lengthAdjust="spacingAndGlyphs">10</text>
<text x="605.6" y="532.9" text-anchor="middle" textLength="17.00" lengthAdjust="spacingAndGlyphs">20</text>
<text x="651.5" y="532.9" text-anchor="middle" textLength="17.00" lengthAdjust="spacingAndGlyphs">30</text>
<text x="697.4" y="532.9" text-anchor="middle" textLength="17.00" lengthAdjust="spacingAndGlyphs">40</text>
</g>
</svg></body></html>
